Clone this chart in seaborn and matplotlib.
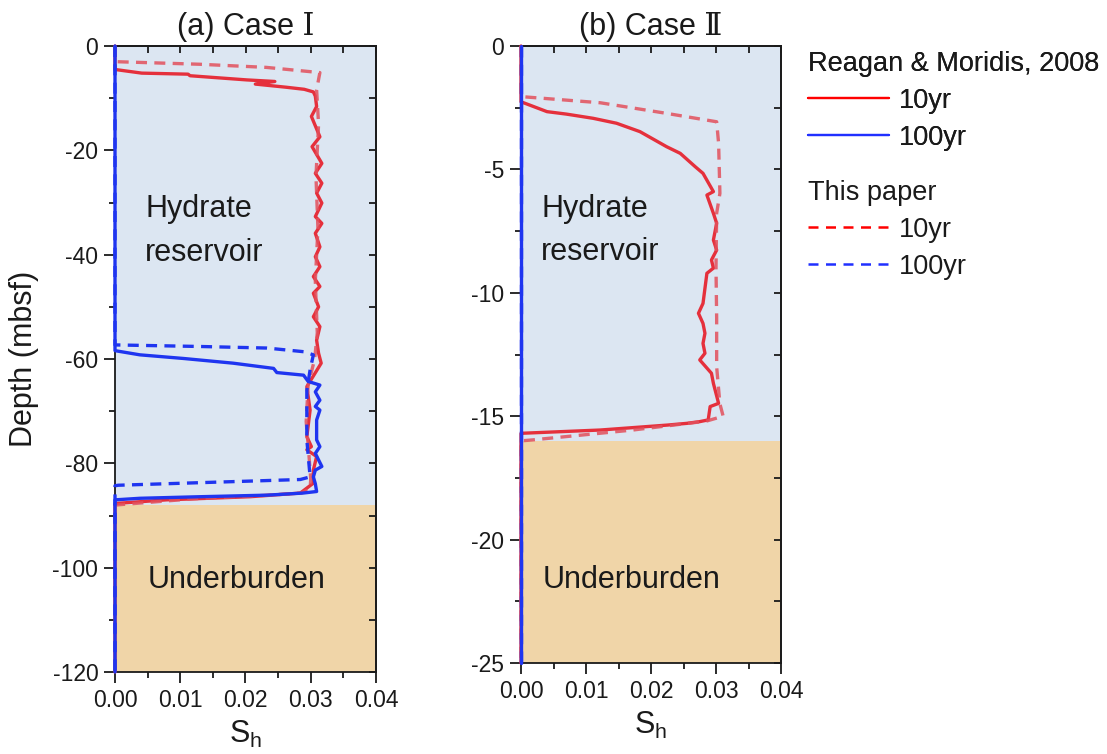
import numpy as np
import pandas as pd
import matplotlib
matplotlib.use("Agg")
import matplotlib.pyplot as plt
from matplotlib.lines import Line2D
from matplotlib.ticker import MultipleLocator, FormatStrFormatter
import seaborn as sns

# ---------------- data ----------------
# Panel (a) Case I  (Sh, depth in mbsf)
a_red_solid_sh = [0, 0, 0.0041, 0.0112, 0.0115, 0.0202, 0.0245, 0.0215, 0.0262, 0.0290, 0.0304,
                  0.0307, 0.0309, 0.0301, 0.0314, 0.0302, 0.0317, 0.0307, 0.0317, 0.0309, 0.0317,
                  0.0307, 0.0317, 0.0307, 0.0314, 0.0307, 0.0314, 0.0304, 0.0314, 0.0304, 0.0312,
                  0.0304, 0.0314, 0.0309, 0.0312, 0.0316, 0.0294, 0.0299, 0.0294, 0.0301, 0.0294,
                  0.0309, 0.0304, 0.0304, 0.0284, 0.0207, 0.0079, 0, 0]
a_red_solid_d = [0, -4.5, -5.2, -5.4, -5.7, -6.5, -6.8, -7.3, -7.9, -8.3, -8.8,
                 -9.6, -11.6, -13.5, -17.4, -19.3, -22.5, -24.4, -26.3, -28.2, -30.1,
                 -32.7, -34.0, -35.9, -38.5, -40.4, -42.3, -44.2, -46.1, -47.4, -50.0,
                 -51.9, -53.8, -56.4, -58.9, -60.8, -65.3, -69.8, -74.9, -76.8, -77.4,
                 -78.7, -81.3, -83.8, -85.7, -86.4, -87.0, -87.7, -120]

a_red_dash_sh = [0, 0, 0.0130, 0.0232, 0.0314, 0.0309, 0.0312, 0.0308, 0.0311, 0.0307, 0.0310,
                 0.0306, 0.0296, 0.0293, 0.0297, 0.0300, 0.0299, 0.0286, 0.0236, 0.0120, 0, 0]
a_red_dash_d = [0, -3.0, -3.5, -4.1, -5.1, -8.4, -15, -25, -35, -45, -55,
                -60, -65, -72, -78, -83, -84.8, -85.7, -86.1, -86.8, -88.0, -120]

a_blue_solid_sh = [0, 0, 0.0038, 0.0105, 0.0181, 0.0243, 0.0248, 0.0289, 0.0296, 0.0314, 0.0307,
                   0.0314, 0.0307, 0.0314, 0.0309, 0.0309, 0.0314, 0.0307, 0.0317, 0.0307, 0.0304,
                   0.0307, 0.0309, 0.0288, 0.0233, 0.0130, 0.0038, 0, 0]
a_blue_solid_d = [0, -58.4, -59.2, -59.9, -60.8, -61.8, -62.6, -63.1, -64.3, -65.0, -66.3,
                  -67.9, -69.1, -69.8, -71.7, -75.5, -76.8, -78.1, -80.6, -81.3, -82.6,
                  -83.9, -85.4, -85.7, -86.1, -86.4, -86.7, -87.0, -120]

a_blue_dash_sh = [0, 0, 0.0130, 0.0233, 0.0289, 0.0304, 0.0299, 0.0294, 0.0294, 0.0299, 0.0284, 0.0005, 0, 0]
a_blue_dash_d = [0, -57.3, -57.6, -57.9, -58.6, -59.2, -62.1, -66.0, -75.5, -82.6, -83.1, -84.2, -84.3, -120]

# Panel (b) Case II
b_red_solid_sh = [0, 0, 0.0040, 0.0070, 0.0111, 0.0147, 0.0183, 0.0224, 0.0245, 0.0268, 0.0280,
                  0.0296, 0.0286, 0.0296, 0.0301, 0.0296, 0.0301, 0.0293, 0.0296, 0.0286, 0.0280,
                  0.0273, 0.0280, 0.0283, 0.0280, 0.0283, 0.0275, 0.0293, 0.0296, 0.0304, 0.0291,
                  0.0288, 0.0275, 0.0255, 0.0225, 0.0122, 0.0003, 0, 0]
b_red_solid_d = [0, -2.26, -2.66, -2.76, -2.93, -3.13, -3.47, -4.08, -4.35, -4.89, -5.16,
                 -5.90, -6.04, -6.78, -7.18, -7.86, -8.27, -8.67, -9.0, -9.21, -10.43,
                 -10.83, -11.24, -11.64, -12.05, -12.45, -12.72, -13.26, -13.67, -14.48, -14.61,
                 -15.15, -15.22, -15.29, -15.36, -15.56, -15.69, -15.7, -25]

b_red_dash_sh = [0, 0, 0.0122, 0.0224, 0.0301, 0.0304, 0.0306, 0.0301, 0.0300, 0.0301, 0.0301,
                 0.0306, 0.0311, 0.0285, 0.0172, 0.0018, 0, 0]
b_red_dash_d = [0, -2.05, -2.30, -2.73, -3.07, -3.94, -5.97, -6.78, -9.0, -11.0, -13.0,
                -14.5, -15.0, -15.2, -15.56, -15.96, -16.0, -25]

b_blue_solid_sh = [0, 0]
b_blue_solid_d = [0, -25]
b_blue_dash_sh = [0, 0]
b_blue_dash_d = [0, -25]

# layer boundaries (mbsf)
a_reservoir_bottom = -88
a_depth_min = -120
b_reservoir_bottom = -16
b_depth_min = -25

titles = ["(a) Case \u2160", "(b) Case \u2161"]
legend_labels = ["10yr", "100yr"]

# ---------------- style ----------------
sns.set_theme(style="ticks")
plt.rcParams['font.family'] = ['Liberation Sans', 'DejaVu Sans']
plt.rcParams['axes.unicode_minus'] = False
plt.rcParams['mathtext.fontset'] = 'custom'
plt.rcParams['mathtext.rm'] = 'Liberation Sans'

RED = '#E5303C'
RED_D = '#E2505C'
BLUE = '#1F35F0'
BG_RES = '#DCE6F2'
BG_UND = '#F0D5A8'
INK = '#1A1A1A'

fig = plt.figure(figsize=(11.07, 7.54), dpi=100)
ax_a = fig.add_axes([115/1107, 1-672/754, 261/1107, (672-46)/754])
ax_b = fig.add_axes([521/1107, 1-663/754, 260/1107, (663-46)/754])


def draw(ax, sh, d, color, dashed, alpha=1.0):
    df = pd.DataFrame({"Sh": sh, "Depth": d})
    kw = {"linestyle": (0, (3.3, 2.2))} if dashed else {}
    sns.lineplot(data=df, x="Sh", y="Depth", sort=False, estimator=None, ax=ax,
                 color=color, lw=2.4, alpha=alpha, zorder=4, clip_on=False, **kw)


panels = [
    (ax_a, a_reservoir_bottom, a_depth_min,
     [(a_red_solid_sh, a_red_solid_d, RED, False, 1.0),
      (a_red_dash_sh, a_red_dash_d, RED_D, True, 0.85),
      (a_blue_solid_sh, a_blue_solid_d, BLUE, False, 1.0),
      (a_blue_dash_sh, a_blue_dash_d, BLUE, True, 1.0)],
     20, 10, (0.115, 0.705), (0.126, 0.147)),
    (ax_b, b_reservoir_bottom, b_depth_min,
     [(b_red_solid_sh, b_red_solid_d, RED, False, 1.0),
      (b_red_dash_sh, b_red_dash_d, RED_D, True, 0.85),
      (b_blue_solid_sh, b_blue_solid_d, BLUE, False, 1.0),
      (b_blue_dash_sh, b_blue_dash_d, BLUE, True, 1.0)],
     5, 2.5, (0.077, 0.701), (0.085, 0.135)),
]

for i, (ax, rb, dmin, series, maj, mnr, hpos, upos) in enumerate(panels):
    ax.axhspan(rb, 0, color=BG_RES, zorder=0, lw=0)
    ax.axhspan(dmin, rb, color=BG_UND, zorder=0, lw=0)
    for sh, d, c, dashed, al in series:
        draw(ax, sh, d, c, dashed, al)
    ax.set_xlim(0, 0.04)
    ax.set_ylim(dmin, 0)
    ax.xaxis.set_major_locator(MultipleLocator(0.01))
    ax.xaxis.set_minor_locator(MultipleLocator(0.005))
    ax.xaxis.set_major_formatter(FormatStrFormatter('%.2f'))
    ax.yaxis.set_major_locator(MultipleLocator(maj))
    ax.yaxis.set_minor_locator(MultipleLocator(mnr))
    ax.tick_params(which='both', direction='out', top=False, right=False,
                   labelsize=16.5, width=1.3, color=INK, labelcolor=INK, pad=4)
    ax.tick_params(which='major', length=8)
    ax.tick_params(which='minor', length=4.5)
    for spine in ax.spines.values():
        spine.set_linewidth(1.3)
        spine.set_color(INK)
    sec_x = ax.secondary_xaxis('top')
    sec_x.xaxis.set_major_locator(MultipleLocator(0.005))
    sec_x.tick_params(direction='in', length=5, width=1.3, labeltop=False, color=INK)
    sec_y = ax.secondary_yaxis('right')
    sec_y.yaxis.set_major_locator(MultipleLocator(mnr))
    sec_y.tick_params(direction='in', length=5, width=1.3, labelright=False, color=INK)
    sec_x.spines['top'].set_linewidth(1.3)
    sec_y.spines['right'].set_linewidth(1.3)
    ax.set_xlabel(r'S$_\mathregular{h}$', fontsize=22, labelpad=5, color=INK)
    ax.set_ylabel('Depth (mbsf)' if i == 0 else '', fontsize=22, color=INK, labelpad=10)
    ax.set_title(titles[i], fontsize=22, pad=8, color=INK,
                 fontfamily=['Liberation Sans', 'DejaVu Serif', 'DejaVu Sans'])
    ax.text(hpos[0], hpos[1], 'Hydrate\nreservoir', transform=ax.transAxes, fontsize=22,
            ha='left', va='center', linespacing=1.6, color=INK)
    ax.text(upos[0], upos[1], 'Underburden', transform=ax.transAxes,
            fontsize=22, ha='left', va='center', color=INK)

# legends
h1 = [Line2D([], [], color='#FF0000', lw=1.6), Line2D([], [], color='#2030FF', lw=1.6)]
h2 = [Line2D([], [], color='#FF0000', lw=1.8, linestyle=(0, (4, 3))),
      Line2D([], [], color='#2030FF', lw=1.8, linestyle=(0, (4, 3)))]
common = dict(loc='upper left', frameon=False, fontsize=19.5, title_fontsize=19.5,
              alignment='left', handlelength=3.0, handletextpad=0.35,
              borderpad=0, borderaxespad=0, labelspacing=0.4)
leg1 = fig.legend(h1, legend_labels, title='Reagan & Moridis, 2008',
                  bbox_to_anchor=(808/1107, 1-51/754), **common)
leg2 = fig.legend(h2, legend_labels, title='This paper',
                  bbox_to_anchor=(808/1107, 1-180/754), **common)
for leg in (leg1, leg2):
    leg.get_title().set_color(INK)
    for t in leg.get_texts():
        t.set_color(INK)
fig.add_artist(leg1)

fig.savefig('out.png', dpi=100)
